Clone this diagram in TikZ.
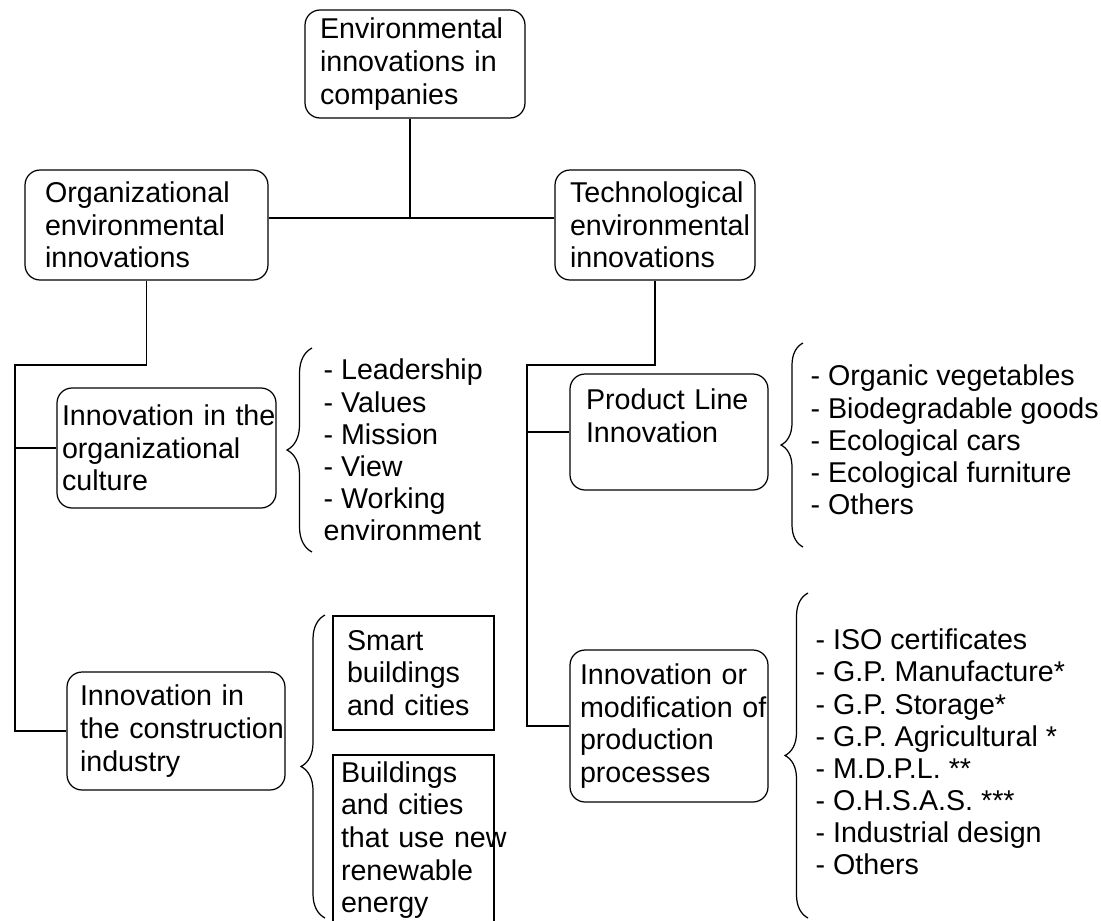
\documentclass[tikz,border=0pt]{standalone}
\usepackage{fontspec}
\setmainfont{Liberation Sans}
\usetikzlibrary{decorations.pathreplacing}

\begin{document}
\begin{tikzpicture}[x=0.02cm, y=-0.02cm, line width=0.7pt, font=\fontsize{16.3}{18.6}\selectfont,
  box/.style={draw, rounded corners=0.3cm, align=left, inner ysep=0pt},
  plainbox/.style={draw, align=left, inner ysep=0pt},
  list/.style={anchor=west, align=left, inner sep=0pt, font=\fontsize{16.3}{18.3}\selectfont},
  link/.style={line width=0.8pt},
  curly/.style={decorate, decoration={brace, amplitude=#1}, line width=0.7pt}]
\useasboundingbox (0,0) rectangle (1101,920);

% top levels
\node[box, text width=3.8cm, inner xsep=0.3cm, minimum height=2.16cm] (top) at (415,64) {Environmental\\innovations in\\companies};
\node[box, text width=4.06cm, inner xsep=0.4cm, minimum height=2.2cm] (org) at (146.5,225) {Organizational\\environmental\\innovations};
\node[box, text width=3.4cm, inner xsep=0.3cm, minimum height=2.2cm] (tech) at (655,225) {Technological\\environmental\\innovations};

% organizational branch
\node[box, text width=4.18cm, inner xsep=0.1cm, minimum height=2.4cm] (culture) at (166.5,448) {\mbox{Innovation in the}\\organizational\\culture};
\node[box, text width=3.84cm, inner xsep=0.26cm, minimum height=2.36cm] (constr) at (176,731) {Innovation in\\\mbox{the construction}\\industry};
\node[plainbox, text width=2.66cm, inner xsep=0.28cm, minimum height=2.28cm] (smart) at (413.5,673) {Smart\\buildings\\and cities};
\node[plainbox, text width=2.9cm, inner xsep=0.16cm, minimum height=3.4cm] (renew) at (413.5,840) {Buildings\\and cities\\\mbox{that use new}\\renewable\\energy};
\node[list] (culturelist) at (323,450) {- Leadership\\- Values\\- Mission\\- View\\- Working\\environment};

% technological branch
\node[box, text width=3.32cm, inner xsep=0.32cm, minimum height=2.32cm] (product) at (669,432) {Product Line\\Innovation\\\mbox{}};
\node[box, text width=3.56cm, inner xsep=0.2cm, minimum height=3.04cm] (process) at (669,726) {Innovation or\\\mbox{modification of}\\production\\processes};
\node[list] (productlist) at (810,440) {- Organic vegetables\\- Biodegradable goods\\- Ecological cars\\- Ecological furniture\\- Others};
\node[list] (processlist) at (815,752) {- ISO certificates\\- G.P. Manufacture*\\- G.P. Storage*\\- G.P. Agricultural *\\- M.D.P.L. **\\- O.H.S.A.S. ***\\- Industrial design\\- Others};

% connectors
\coordinate (hub) at (410,218);
\coordinate (lspine) at (15,365);
\coordinate (rspine) at (527,365);
\draw[line width=1.4pt] (org.east |- hub) -- (tech.west |- hub);
\draw[link] (top.south -| hub) -- (hub);
\draw[link] (org.south) |- (lspine) -- (lspine |- constr.west) -- (constr.west);
\draw[link] (lspine |- culture.west) -- (culture.west);
\draw[link] (tech.south) |- (rspine) -- (rspine |- process.west) -- (process.west);
\draw[link] (rspine |- product.west) -- (product.west);

% braces
\draw[curly=0.5cm] (312,552) -- (312,348);
\draw[curly=0.48cm] (325,918) -- (325,615);
\draw[curly=0.44cm] (803,547) -- (803,343);
\draw[curly=0.46cm] (808,918) -- (808,593);
\end{tikzpicture}
\end{document}
